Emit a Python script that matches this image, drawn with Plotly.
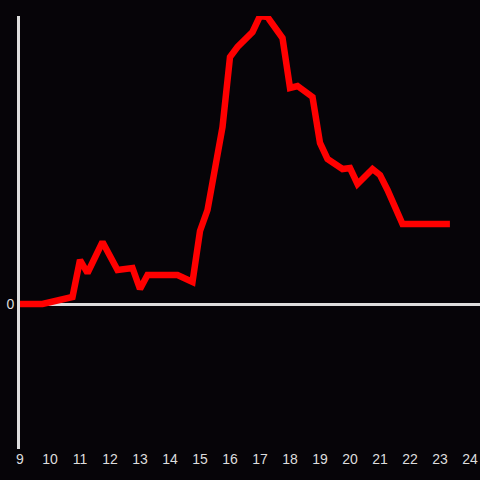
import plotly.graph_objects as go

hours = [9.0, 9.75, 10.75, 11.0, 11.25, 11.75, 12.25, 12.75, 13.0, 13.25, 14.25, 14.75,
         15.0, 15.25, 15.75, 16.0, 16.25, 16.75, 17.0, 17.25, 17.75, 18.0, 18.25, 18.75,
         19.0, 19.25, 19.75, 20.0, 20.25, 20.75, 21.0, 21.25, 21.75, 23.33]
values = [0, 0, 7, 44, 31, 62, 34, 36, 15, 29, 29, 22,
          73, 94, 177, 247, 257, 272, 288, 287, 266, 216, 218, 207,
          161, 145, 135, 136, 120, 135, 129, 114, 80, 80]
x_ticks = list(range(9, 25))

fig = go.Figure()
fig.add_trace(go.Scatter(x=hours, y=values, mode="lines",
                         line=dict(color="#ff0000", width=6.5),
                         cliponaxis=False, hoverinfo="skip"))

fig.update_layout(
    width=480, height=480,
    margin=dict(l=20, r=0, t=16, b=31),
    paper_bgcolor="#060408", plot_bgcolor="#060408",
    showlegend=False,
    font=dict(family="Liberation Sans, Arial, sans-serif", size=14, color="#dddddd"),
    xaxis=dict(range=[9, 24.333], tickvals=x_ticks, ticktext=[str(t) for t in x_ticks],
               showgrid=False, zeroline=False, showline=False, ticks=""),
    yaxis=dict(range=[-145, 288], tickvals=[0], ticktext=["0"], showgrid=False,
               zeroline=True, zerolinecolor="#dddddd", zerolinewidth=3,
               showline=True, linecolor="#dddddd", linewidth=3, ticks=""),
)
fig.write_html("out.html", config={"displayModeBar": False},
               post_script="document.body.style.margin='0';document.body.style.overflow='hidden';")
